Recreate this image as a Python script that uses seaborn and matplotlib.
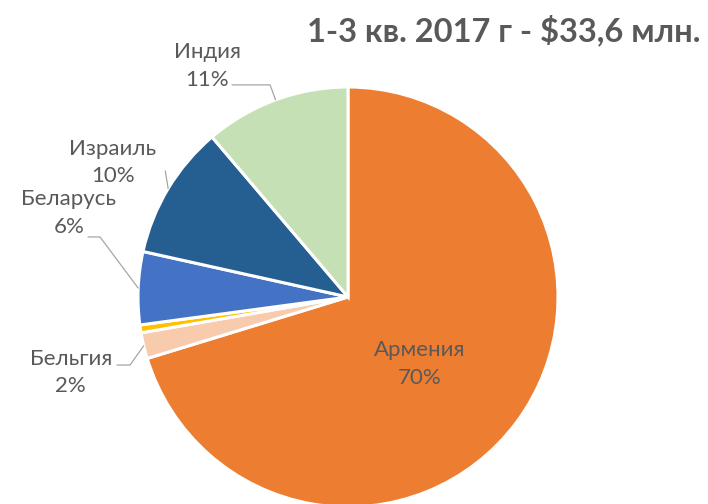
import numpy as np
import matplotlib
matplotlib.use("Agg")
import matplotlib.pyplot as plt
import seaborn as sns

# shares of 1-3 quarter 2017, percent
countries = ["Армения", "Бельгия", "Прочие", "Беларусь", "Израиль", "Индия"]
shares = [70.2, 2.0, 0.6, 5.6, 10.3, 11.2]
pct_labels = ["70%", "2%", "", "6%", "10%", "11%"]
colors = ["#ED7D31", "#F8CBAD", "#FFC000", "#4472C4", "#255E91", "#C5E0B4"]
title = "1-3 кв. 2017 г - $33,6 млн."

# label placement (data coords, pie radius = 1) and leader-line elbows
label_pos = {
    "Бельгия": (-1.32, -0.36),
    "Беларусь": (-1.33, 0.40),
    "Израиль": (-1.12, 0.64),
    "Индия": (-0.67, 1.10),
}
leader_pts = {
    "Бельгия": [(-1.10, -0.324), (-1.038, -0.324)],
    "Беларусь": [(-1.238, 0.286), (-1.181, 0.286)],
    "Израиль": [(-0.87, 0.60)],
    "Индия": [(-0.552, 1.01), (-0.371, 1.01)],
}

sns.set_theme(style="white")
plt.rcParams["font.family"] = ["Lato", "DejaVu Sans"]
text_color = "#595959"

fig = plt.figure(figsize=(7.08, 5.04), dpi=100)
ax = fig.add_axes([138 / 708, -3 / 504, 420 / 708, 420 / 504])
wedges, _ = ax.pie(shares, colors=colors, startangle=90, counterclock=False,
                   radius=1, wedgeprops=dict(edgecolor="white", linewidth=2.2))
ax.set_xlim(-1, 1)
ax.set_ylim(-1, 1)
ax.set_aspect("equal")
ax.axis("off")

fs = 16
for w, name, pct in zip(wedges, countries, pct_labels):
    if not pct:
        continue
    if name == "Армения":
        ax.text(0.343, -0.319, f"{name}\n{pct}", ha="center", va="center",
                fontsize=fs, color=text_color, linespacing=1.45, clip_on=False)
        continue
    mid = np.deg2rad((w.theta1 + w.theta2) / 2)
    edge = (np.cos(mid), np.sin(mid))
    tx, ty = label_pos[name]
    ax.text(tx, ty, f"{name}\n{pct}", ha="center", va="center",
            fontsize=fs, color=text_color, linespacing=1.45, clip_on=False)
    pts = leader_pts[name] + [edge]
    xs, ys = zip(*pts)
    ax.plot(xs, ys, color="#A6A6A6", linewidth=0.9, clip_on=False)

fig.text(0.99, 0.94, title, ha="right", va="center", fontsize=23.5,
         fontweight="bold", color=text_color)

fig.savefig("out.png", dpi=100)
